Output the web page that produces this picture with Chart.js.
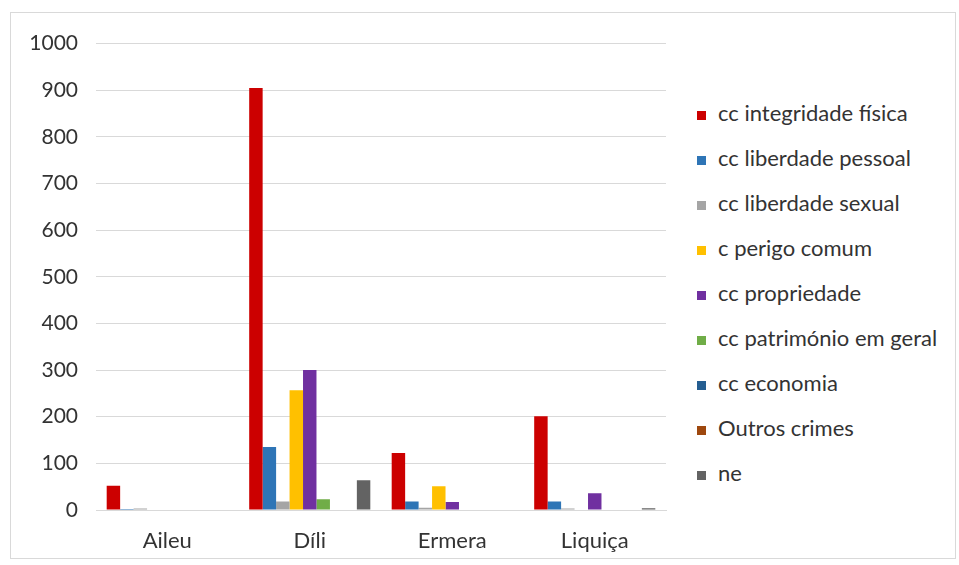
<!DOCTYPE html>
<html>
<head>
<meta charset="utf-8">
<script src="https://cdn.jsdelivr.net/npm/chart.js@4/dist/chart.umd.min.js"></script>
<style>
  body { margin: 0; background: #fff; font-family: Lato, "Open Sans", sans-serif; }
  .frame {
    position: absolute; left: 10px; top: 12px; width: 944px; height: 545px;
    border: 1px solid #d9d9d9; background: #fff;
  }
  .plot { position: absolute; left: 0; top: 0; width: 660px; height: 545px; }
  ul.legend {
    position: absolute; left: 686px; top: 77px; margin: 0; padding: 0; list-style: none;
    font-size: 22px; color: #333;
  }
  ul.legend li { height: 45px; line-height: 45px; white-space: nowrap; }
  ul.legend .dot { display: inline-block; width: 9px; height: 9px; margin-right: 12px; vertical-align: 1px; }
</style>
</head>
<body>
<div class="frame">
  <div class="plot"><canvas id="crimes"></canvas></div>
  <ul class="legend" id="legend"></ul>
</div>
<script>
// districts on the x axis
const districts = ["Aileu", "Díli", "Ermera", "Liquiça"];

// one array per crime type, values per district
const integridadeFisica = [52, 905, 122, 201];
const liberdadePessoal = [2, 135, 18, 18];
const liberdadeSexual = [3, 18, 5, 3];
const perigoComum = [0, 257, 51, 0];
const propriedade = [0, 300, 17, 36];
const patrimonioGeral = [0, 23, 0, 0];
const economia = [0, 0, 0, 0];
const outrosCrimes = [0, 0, 0, 0];
const naoEspecificado = [0, 64, 0, 4];

const seriesNames = [
  "cc integridade física", "cc liberdade pessoal", "cc liberdade sexual",
  "c perigo comum", "cc propriedade", "cc património em geral",
  "cc economia", "Outros crimes", "ne"
];
const seriesValues = [
  integridadeFisica, liberdadePessoal, liberdadeSexual, perigoComum,
  propriedade, patrimonioGeral, economia, outrosCrimes, naoEspecificado
];
const seriesColors = [
  "#cc0000", "#2e75b6", "#a5a5a5", "#ffc000", "#7030a0",
  "#70ad47", "#255e91", "#9e480e", "#636363"
];

const yTicks = [0, 100, 200, 300, 400, 500, 600, 700, 800, 900, 1000];

const datasets = seriesNames.map((name, i) => ({
  label: name,
  data: seriesValues[i],
  backgroundColor: seriesColors[i],
  borderWidth: 0,
  barPercentage: 1,
  categoryPercentage: 0.85,
}));

const chart = new Chart(document.getElementById("crimes"), {
  type: "bar",
  data: { labels: districts, datasets },
  options: {
    responsive: true,
    maintainAspectRatio: false,
    animation: false,
    layout: { padding: { top: 30, right: 5, left: 0, bottom: 0 } },
    plugins: { legend: { display: false }, tooltip: { enabled: false } },
    scales: {
      x: {
        grid: { display: false, drawTicks: false },
        border: { color: "#d9d9d9", width: 1 },
        ticks: { padding: 18, color: "#333", font: { family: "Lato", size: 22 } },
        afterFit: (s) => { s.height = 48; },
      },
      y: {
        min: 0,
        max: 1000,
        afterBuildTicks: (s) => { s.ticks = yTicks.map((v) => ({ value: v })); },
        grid: { color: "#d9d9d9", drawTicks: false },
        border: { display: false },
        ticks: {
          padding: 18,
          color: "#333",
          font: { family: "Lato", size: 21 },
          callback: (v) => String(v),
        },
        afterFit: (s) => { s.width = 85; },
      },
    },
  },
});

// legend built from the chart's datasets
const legendEl = document.getElementById("legend");
chart.data.datasets.forEach((ds) => {
  const li = document.createElement("li");
  li.innerHTML = `<span class="dot" style="background:${ds.backgroundColor}"></span>${ds.label}`;
  legendEl.appendChild(li);
});
</script>
</body>
</html>
